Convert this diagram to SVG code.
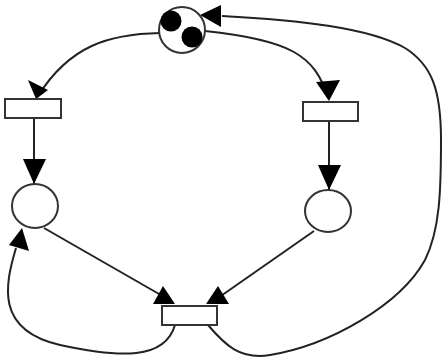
<svg xmlns="http://www.w3.org/2000/svg" width="446" height="362" viewBox="0 0 446 362">
<defs>
<style>
.n{fill:#fff;stroke:#333;stroke-width:2}
.c{fill:none;stroke:#222;stroke-width:2}
.h{fill:#000}
</style>
</defs>
<rect width="446" height="362" fill="#fff"/>
<g id="connectors">
<path class="c" d="M160,33 C110,34 70,45 38,96"/>
<path class="h" d="M36,99 L28,80 L48,90 Z"/>
<path class="c" d="M205,31 C290,40 315,55 328,98"/>
<path class="h" d="M329,101 L316,82 L340,80 Z"/>
<path class="c" d="M34,118 L34,184"/>
<path class="h" d="M34,184 L23,159 L46,159 Z"/>
<path class="c" d="M329,121 L329,190"/>
<path class="h" d="M329,190 L318,165 L341,165 Z"/>
<path class="c" d="M44,228 L166,298"/>
<path class="h" d="M175,304 L153,304 L163,286 Z"/>
<path class="c" d="M314,231 L218,298"/>
<path class="h" d="M206,304 L229,304 L218,286 Z"/>
<path class="c" d="M175,325 C165,360 120,358 60,345 C-5,330 5,285 16,248"/>
<path class="h" d="M22,228 L9,245 L29,251 Z"/>
<path class="c" d="M208,325 C225,345 240,360 270,355 C330,345 400,305 425,260 C440,230 441,190 441,140 C441,90 432,65 405,48 C370,28 300,20 222,16"/>
<path class="h" d="M200,15 L221,5 L221,27 Z"/>
</g>
<g id="p_top">
<circle class="n" cx="182" cy="30" r="23"/>
<circle cx="171" cy="21" r="10.5" fill="#000"/>
<circle cx="192" cy="37" r="10.5" fill="#000"/>
</g>
<g id="t_left"><rect class="n" x="5" y="99" width="56" height="19"/></g>
<g id="t_right"><rect class="n" x="303" y="102" width="55" height="19"/></g>
<g id="p_left"><ellipse class="n" cx="35" cy="206" rx="23" ry="22"/></g>
<g id="p_right"><ellipse class="n" cx="328" cy="211" rx="23" ry="21"/></g>
<g id="t_bottom"><rect class="n" x="162" y="306" width="55" height="19"/></g>
</svg>
